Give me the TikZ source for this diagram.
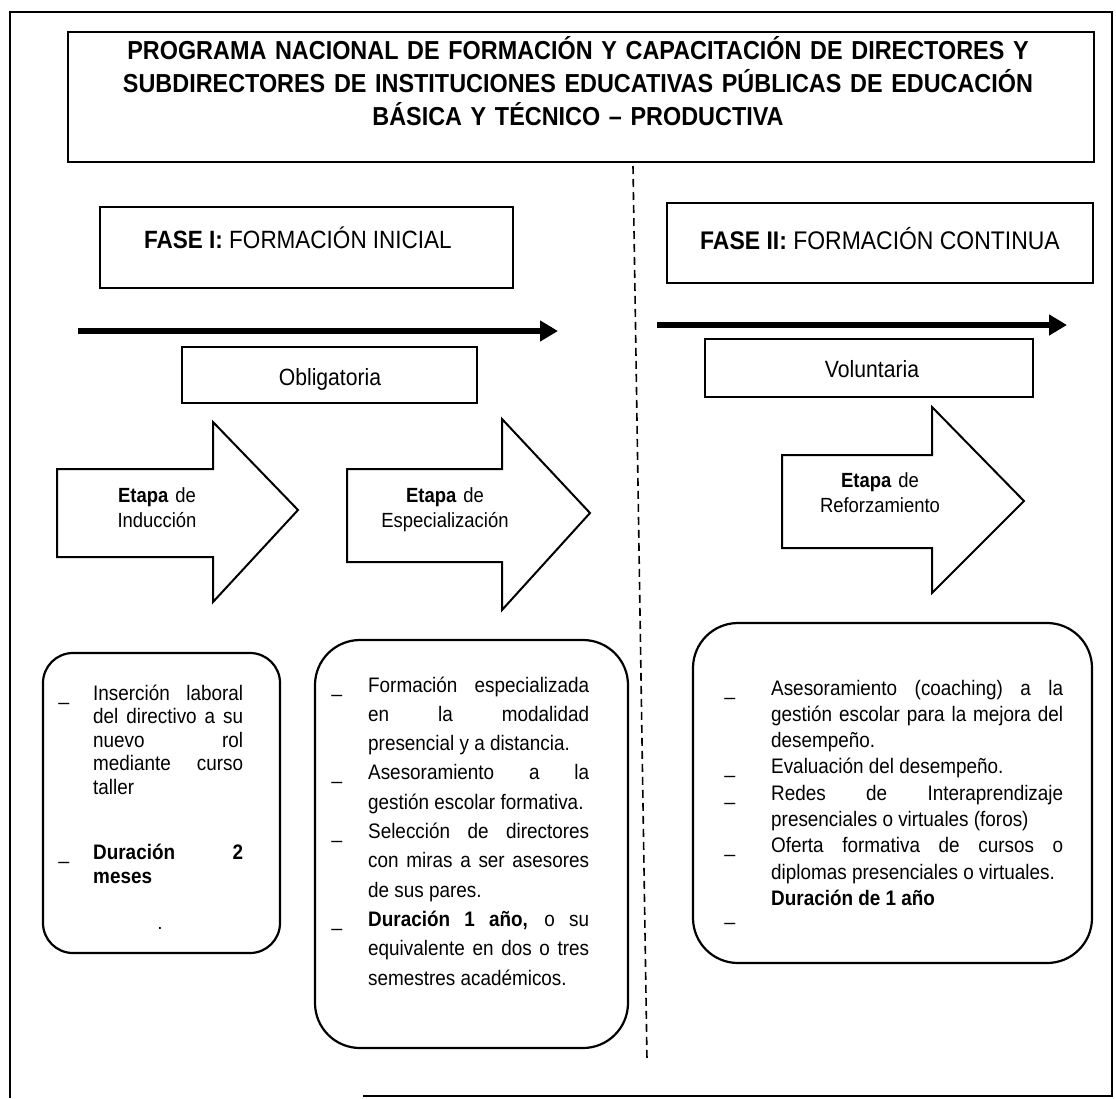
\documentclass[tikz,border=0pt]{standalone}
\usepackage{fontspec}
\setmainfont{Liberation Sans}
\newfontfamily\narrowfont{Liberation Sans}[FakeStretch=0.9]
\usetikzlibrary{arrows.meta}
\hyphenpenalty=10000
\tolerance=9999
\newcommand{\bdash}[1]{\leavevmode\llap{\_\hspace{#1}}}

\begin{document}
\begin{tikzpicture}[x=1pt,y=-1pt,
    frame/.style={line width=1.8pt},
    box/.style={line width=2pt},
    roundbox/.style={line width=2.2pt},
    bigarrow/.style={line width=2pt,line join=miter},
    timeline/.style={line width=5.5pt,-{Triangle[length=18pt,width=20pt]}},
    body/.style={anchor=base west,inner sep=0pt,align=justify,font=\narrowfont\fontsize{21}{#1}\selectfont},
    etapa/.style={anchor=base,inner sep=0pt,text width=150pt,align=center,font=\narrowfont\fontsize{20.5}{25}\selectfont}]
  \useasboundingbox (0,0) rectangle (1116,1098);
  \draw[frame] (363,1096) -- (1112,1096) -- (1112,12) -- (10,12) -- (10,1098);

  \draw[box] (68,32) rectangle (1094,162);
  \node[anchor=base,inner sep=0pt,text width=1000pt,align=center,font=\narrowfont\fontsize{26}{33}\selectfont\bfseries] (title) at (578,59)
    {PROGRAMA NACIONAL DE FORMACIÓN Y CAPACITACIÓN DE DIRECTORES Y\\
     SUBDIRECTORES DE INSTITUCIONES EDUCATIVAS PÚBLICAS DE EDUCACIÓN\\
     BÁSICA Y TÉCNICO – PRODUCTIVA};

  \draw[dashed,dash pattern=on 8pt off 5pt,line width=1.6pt] (633,166) -- (647,1060);

  \draw[box] (100,207) rectangle (513,288);
  \node[anchor=base,font=\narrowfont\fontsize{25}{26}\selectfont] (fase1) at (298,248) {\textbf{FASE I:} FORMACIÓN INICIAL};
  \draw[box] (667,203) rectangle (1093,283);
  \node[anchor=base,font=\narrowfont\fontsize{25.5}{26}\selectfont] (fase2) at (880,249) {\textbf{FASE II:} FORMACIÓN CONTINUA};

  \draw[timeline] (78,331) -- (558,331);
  \draw[timeline] (657,325) -- (1067,325);

  \draw[box] (182,347) rectangle (477,403);
  \node[anchor=base,font=\narrowfont\fontsize{23.5}{26}\selectfont] (oblig) at (330,385) {Obligatoria};
  \draw[box] (705,339) rectangle (1033,397);
  \node[anchor=base,font=\narrowfont\fontsize{23.5}{26}\selectfont] (volunt) at (872,377) {Voluntaria};

  \draw[bigarrow] (57,469) -- (213,469) -- (213,422) -- (298,510) -- (213,602) -- (213,557) -- (57,557) -- cycle;
  \node[etapa] (etapa1) at (157,502) {\textbf{Etapa} de\\ Inducción};
  \draw[bigarrow] (347,469) -- (502,469) -- (502,419) -- (590,513) -- (502,610) -- (502,562) -- (347,562) -- cycle;
  \node[etapa] (etapa2) at (445,502) {\textbf{Etapa} de\\ Especialización};
  \draw[bigarrow] (782,455) -- (932,455) -- (932,407) -- (1024,501) -- (932,593) -- (932,548) -- (782,548) -- cycle;
  \node[etapa] (etapa3) at (880,487) {\textbf{Etapa} de\\ Reforzamiento};

  \draw[roundbox,rounded corners=30pt] (43,653) rectangle (280,953);
  \node[body=23.5,text width=150pt] (info1) at (93,700)
    {\bdash{24pt}Inserción laboral\linebreak del directivo a su\linebreak nuevo rol\linebreak mediante curso\linebreak taller\par
     \vspace{42pt}
     \bdash{24pt}\textbf{Duración 2}\linebreak \textbf{meses}};
  \node[inner sep=0pt,font=\fontsize{19}{23}\selectfont] (dot) at (160,928) {.};

  \draw[roundbox,rounded corners=45pt] (315,640) rectangle (628,1048);
  \node[body=29.3,text width=221pt] (info2) at (368,692)
    {\bdash{26pt}Formación especializada\linebreak en la modalidad\linebreak presencial y a distancia.\par
     \bdash{26pt}Asesoramiento a la\linebreak gestión escolar formativa.\par
     \bdash{26pt}Selección de directores\linebreak con miras a ser asesores\linebreak de sus pares.\par
     \bdash{26pt}\textbf{Duración 1 año,} o su\linebreak equivalente en dos o tres\linebreak semestres académicos.};

  \draw[roundbox,rounded corners=45pt] (693,623) rectangle (1092,963);
  \node[body=26.3,text width=292pt] (info3) at (771,695)
    {\bdash{36pt}Asesoramiento (coaching) a la\linebreak gestión escolar para la mejora del\linebreak desempeño.\par
     \bdash{36pt}Evaluación del desempeño.\par
     \bdash{36pt}Redes de Interaprendizaje\linebreak presenciales o virtuales (foros)\par
     \bdash{36pt}Oferta formativa de cursos o\linebreak diplomas presenciales o virtuales.\par
     \leavevmode\llap{\raisebox{-15pt}{\_}\hspace{36pt}}\textbf{Duración de 1 año}};
\end{tikzpicture}
\end{document}
